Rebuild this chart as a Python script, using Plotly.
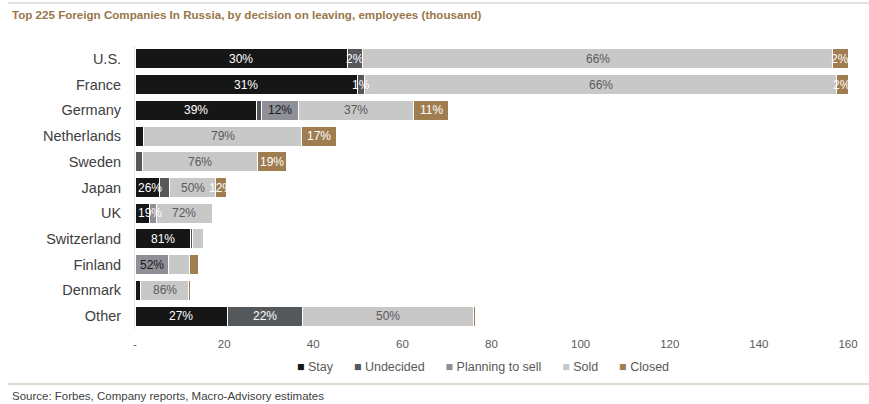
import plotly.graph_objects as go

# Employees of the top 225 foreign companies in Russia, thousands
countries = ["U.S.", "France", "Germany", "Netherlands", "Sweden", "Japan",
             "UK", "Switzerland", "Finland", "Denmark", "Other"]
stay = [47.6, 50.0, 27.3, 1.9, 0.0, 5.4, 3.35, 12.55, 0.0, 1.3, 20.7]
undecided = [3.4, 1.5, 1.0, 0.0, 1.6, 2.4, 0.0, 0.3, 0.0, 0.0, 16.9]
planning = [0.0, 0.0, 8.4, 0.0, 0.0, 0.0, 1.4, 0.0, 7.45, 0.0, 0.0]
sold = [105.6, 106.0, 25.9, 35.5, 25.8, 10.3, 12.6, 2.6, 4.8, 10.8, 38.4]
closed = [3.4, 2.5, 7.7, 7.8, 6.5, 2.5, 0.15, 0.0, 2.1, 0.45, 0.3]

series_names = ["Stay", "Undecided", "Planning to sell", "Sold", "Closed"]
series_values = [stay, undecided, planning, sold, closed]
series_colors = ["#161616", "#55585b", "#8f8f98", "#c8c8c8", "#9f7d50"]
label_colors = ["#ffffff", "#ffffff", "#1a1a1a", "#5a5a5a", "#ffffff"]

# Segments that carry a percentage label
labelled = {
    "U.S.": {"Stay", "Undecided", "Sold", "Closed"},
    "France": {"Stay", "Undecided", "Sold", "Closed"},
    "Germany": {"Stay", "Planning to sell", "Sold", "Closed"},
    "Netherlands": {"Sold", "Closed"},
    "Sweden": {"Sold", "Closed"},
    "Japan": {"Stay", "Sold", "Closed"},
    "UK": {"Stay", "Sold"},
    "Switzerland": {"Stay"},
    "Finland": {"Planning to sell"},
    "Denmark": {"Sold"},
    "Other": {"Stay", "Undecided", "Sold"},
}

x_ticks = [0, 20, 40, 60, 80, 100, 120, 140, 160]
x_tick_text = ["-", "20", "40", "60", "80", "100", "120", "140", "160"]

FONT = "Liberation Sans, Arial, sans-serif"

W, H = 869, 404
L, R, T, B = 135, 21, 46, 75
pw, ph = W - L - R, H - T - B


def px_x(p):
    return (p - L) / pw


def px_y(p):
    return (H - B - p) / ph


fig = go.Figure()

for name, vals, col in zip(series_names, series_values, series_colors):
    fig.add_trace(go.Bar(
        y=countries, x=vals, name=name, orientation="h",
        marker=dict(color=col, line=dict(color="#ffffff", width=1)),
        showlegend=False, hoverinfo="x+y+name",
    ))

# percentage labels centred on each segment, kept clear of the axis
totals = [sum(v[i] for v in series_values) for i in range(len(countries))]
annotations = []
for i, c in enumerate(countries):
    start = 0.0
    for name, vals, lc in zip(series_names, series_values, label_colors):
        v = vals[i]
        if name in labelled[c] and v > 0:
            pct = round(100 * v / totals[i])
            annotations.append(dict(
                x=max(start + v / 2, 3.3), y=c, xref="x", yref="y",
                text=f"{pct}%", showarrow=False,
                font=dict(family=FONT, size=12, color=lc),
            ))
        start += v

# legend row: coloured square keys followed by series names
legend_parts = [
    f"<span style='color:{col}'>■</span>&nbsp;{name}"
    for name, col in zip(series_names, series_colors)
]
annotations.append(dict(
    x=px_x(483), y=px_y(367), xref="paper", yref="paper",
    text="&nbsp;&nbsp;&nbsp;&nbsp;&nbsp;&nbsp;".join(legend_parts),
    showarrow=False, font=dict(family=FONT, size=12.5, color="#595959"),
    xanchor="center", yanchor="middle",
))

annotations.append(dict(
    x=px_x(10), y=px_y(14), xref="paper", yref="paper",
    text="<b>Top 225 Foreign Companies In Russia, by decision on leaving, employees (thousand)</b>",
    showarrow=False, font=dict(family=FONT, size=11.6, color="#98774a"),
    xanchor="left", yanchor="middle",
))
annotations.append(dict(
    x=px_x(10), y=px_y(396), xref="paper", yref="paper",
    text="Source: Forbes, Company reports, Macro-Advisory estimates",
    showarrow=False, font=dict(family=FONT, size=11.5, color="#404040"),
    xanchor="left", yanchor="middle",
))

shapes = [
    dict(type="line", xref="paper", yref="paper", x0=px_x(8), x1=px_x(869),
         y0=px_y(3), y1=px_y(3), line=dict(color="#e2e2e2", width=2)),
    dict(type="line", xref="paper", yref="paper", x0=px_x(8), x1=px_x(869),
         y0=px_y(384), y1=px_y(384), line=dict(color="#d9cbbd", width=1.5)),
]

fig.update_layout(
    width=W, height=H,
    margin=dict(l=L, r=R, t=T, b=B),
    barmode="stack", bargap=0.22,
    plot_bgcolor="white", paper_bgcolor="white",
    font=dict(family=FONT, color="#404040"),
    annotations=annotations, shapes=shapes,
    showlegend=False,
    xaxis=dict(range=[0, 160], tickvals=x_ticks, ticktext=x_tick_text,
               showgrid=False, zeroline=False, showline=False, ticks="",
               ticklabelstandoff=6,
               tickfont=dict(family=FONT, size=11.5, color="#595959"),
               fixedrange=True),
    yaxis=dict(autorange="reversed", categoryorder="array", categoryarray=countries,
               showgrid=False, zeroline=False, showline=True, linecolor="#e3e3e3",
               linewidth=1, ticks="", ticklabelstandoff=10,
               tickfont=dict(family=FONT, size=14.5, color="#404040"),
               fixedrange=True),
)

fig.write_html("out.html")
